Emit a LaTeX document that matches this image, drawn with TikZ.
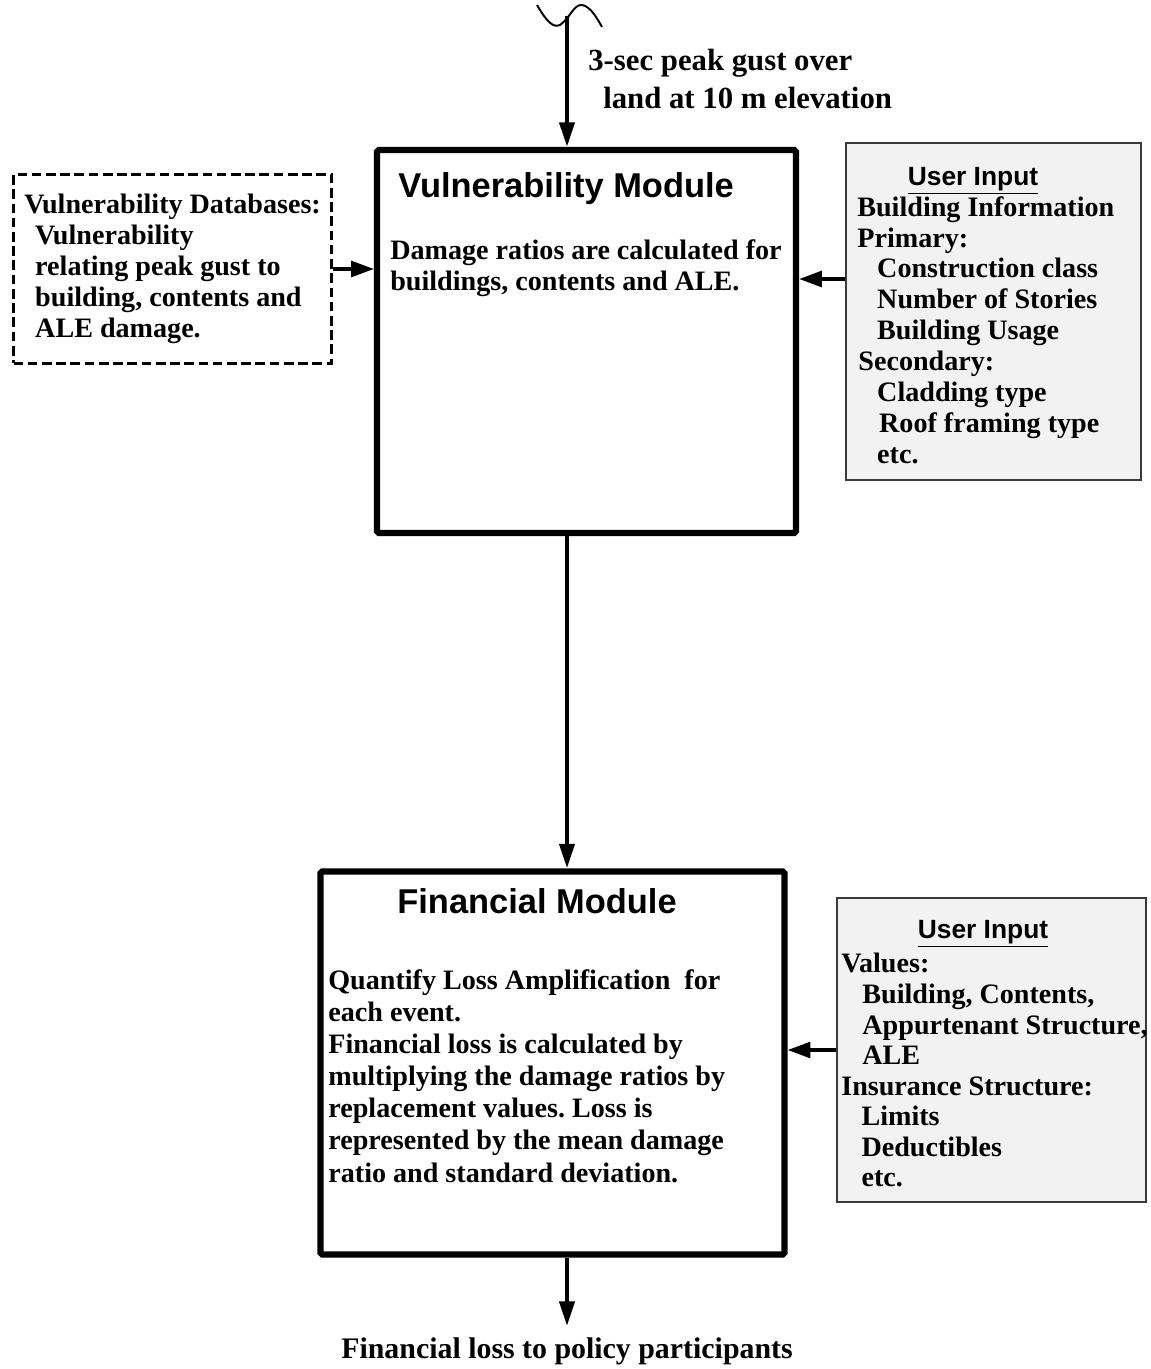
\documentclass[tikz,border=0pt]{standalone}
\usepackage{fontspec}
\setmainfont{Liberation Serif}
\setsansfont{Liberation Sans}
\usetikzlibrary{arrows.meta,positioning,calc}
\frenchspacing
\definecolor{ink}{HTML}{000000}
\definecolor{boxgray}{HTML}{F2F2F2}
\definecolor{edgegray}{HTML}{3A3A3A}
\tikzset{
  modbox/.style={draw=ink,line width=3.6pt,rounded corners=1pt,inner sep=0pt},
  dbbox/.style={draw=ink,line width=1.7pt,dash pattern=on 5.5pt off 2.6pt,inner sep=0pt},
  userbox/.style={draw=edgegray,fill=boxgray,line width=0.8pt,inner sep=0pt},
  modtitle/.style={font=\sffamily\bfseries\fontsize{19.6}{23}\selectfont,inner sep=0pt},
  usertitle/.style={font=\sffamily\bfseries\fontsize{15}{18}\selectfont,inner sep=0pt},
  bodytxt/.style={font=\bfseries\fontsize{16}{17.6}\selectfont,align=left,inner sep=0pt},
  flowarr/.style={-{Triangle[length=14pt,width=8.5pt]},line width=2.4pt},
  sidearr/.style={-{Triangle[length=13pt,width=9pt]},line width=2pt}
}

\begin{document}
\begin{tikzpicture}[x=0.02cm,y=-0.02cm]
  \useasboundingbox (0,0) rectangle (1150,1369);

  % boxes
  \node[modbox,minimum width=8.38cm,minimum height=7.66cm] (vuln) at (586.5,341.5) {};
  \node[modbox,minimum width=9.28cm,minimum height=7.66cm] (fin) at (552.5,1063) {};
  \node[dbbox,minimum width=6.36cm,minimum height=3.78cm] (db) at (172.5,269) {};
  \node[userbox,minimum width=5.9cm,minimum height=6.74cm] (ui1) at (993.5,311.5) {};
  \node[userbox,minimum width=6.18cm,minimum height=6.08cm] (ui2) at (991.5,1050) {};

  % wind input
  \draw[line width=1.1pt] (537,5) .. controls (547,22) and (553,28) .. (560,25)
    .. controls (570,18) and (574,4) .. (582,5)
    .. controls (590,6) and (597,18) .. (602,27);
  \coordinate (gust) at (567,16);
  \node[bodytxt,font=\bfseries\fontsize{17.5}{21.5}\selectfont,anchor=north west] (gustlbl) at (588,49)
    {3-sec peak gust over\\\hspace*{8.5pt}land at 10 m elevation};

  % vulnerability module
  \node[modtitle,anchor=base west] (vulntitle) at (398,197) {Vulnerability Module};
  \node[bodytxt,font=\bfseries\fontsize{16}{18.1}\selectfont,anchor=north west] (vulntxt) at (390,239)
    {Damage ratios are calculated for\\buildings, contents and ALE.};

  % databases
  \node[bodytxt,anchor=north west] (dbtxt) at (24,194)
    {Vulnerability Databases:\\
     \hspace*{6.2pt}Vulnerability\\
     \hspace*{6.2pt}relating peak gust to\\
     \hspace*{6.2pt}building, contents and\\
     \hspace*{6.2pt}ALE damage.};

  % user input 1
  \node[usertitle,anchor=base] (ui1title) at (973,185) {\underline{User Input}};
  \node[bodytxt,anchor=north west] (ui1txt) at (857,196)
    {Building Information\\
     Primary:\\
     \hspace*{11.3pt}Construction class\\
     \hspace*{11.3pt}Number of Stories\\
     \hspace*{11.3pt}Building Usage\\
     \hspace*{0.6pt}Secondary:\\
     \hspace*{11.3pt}Cladding type\\
     \hspace*{12.4pt}Roof framing type\\
     \hspace*{11.3pt}etc.};

  % financial module
  \node[modtitle,anchor=base west] (fintitle) at (397,913) {Financial Module};
  \node[bodytxt,font=\bfseries\fontsize{16}{18.3}\selectfont,anchor=north west] (fintxt) at (328,969)
    {Quantify Loss Amplification\ \ for\\
     each event.\\
     Financial loss is calculated by\\
     multiplying the damage ratios by\\
     replacement values. Loss is\\
     represented by the mean damage\\
     ratio and standard deviation.};

  % user input 2
  \node[usertitle,anchor=base] (ui2title) at (983,938) {\underline{User Input}};
  \node[bodytxt,font=\bfseries\fontsize{16}{17.4}\selectfont,anchor=north west] (ui2txt) at (841,953)
    {Values:\\
     \hspace*{12pt}Building, Contents,\\
     \hspace*{12pt}Appurtenant Structure,\\
     \hspace*{12pt}ALE\\
     Insurance Structure:\\
     \hspace*{11.5pt}Limits\\
     \hspace*{11.5pt}Deductibles\\
     \hspace*{11.5pt}etc.};

  % output
  \node[bodytxt,font=\bfseries\fontsize{17}{20}\selectfont,anchor=base] (loss) at (567,1358)
    {Financial loss to policy participants};
  \coordinate (lossin) at (567,1326);

  % connectors
  \coordinate (ui1in) at ([yshift=0.65cm]ui1.west);
  \draw[flowarr] (gust) -- (vuln.north -| gust);
  \draw[flowarr] ([yshift=0.1cm]vuln.south -| gust) -- (fin.north -| gust);
  \draw[flowarr] (fin.south -| gust) -- (lossin);
  \draw[sidearr] (db.east) -- (vuln.west |- db.east);
  \draw[sidearr] (ui1in) -- (vuln.east |- ui1in);
  \draw[sidearr] (ui2.west) -- (fin.east |- ui2.west);
\end{tikzpicture}
\end{document}
